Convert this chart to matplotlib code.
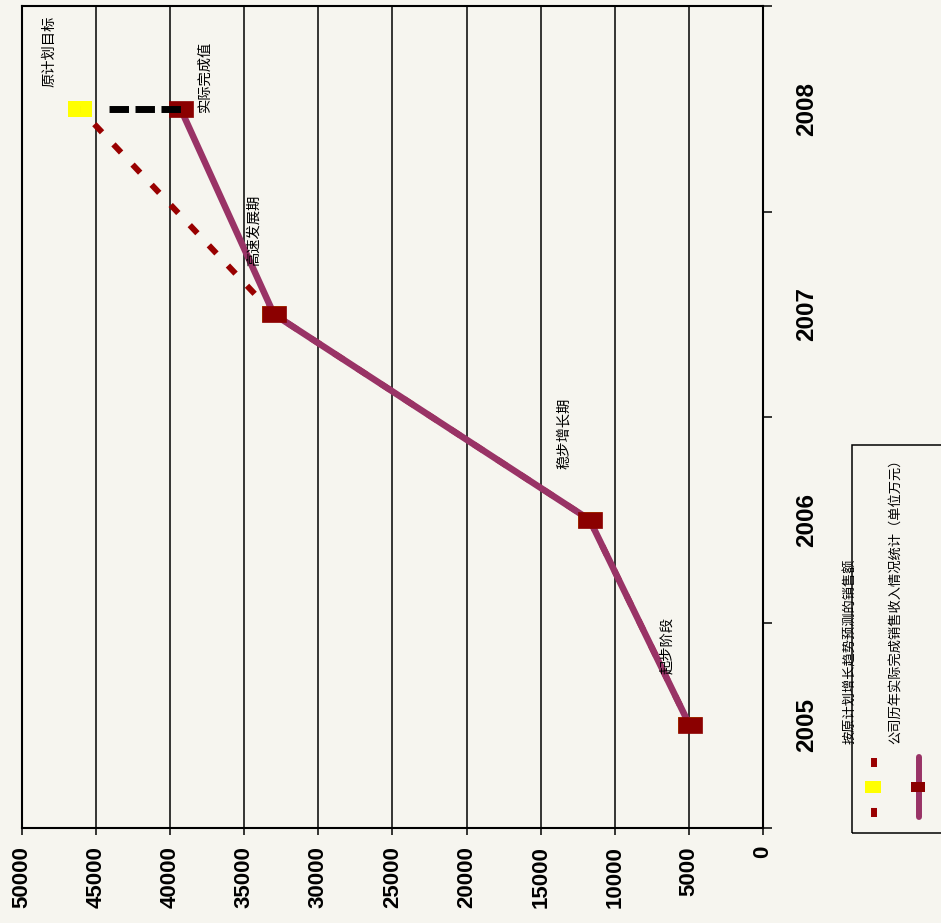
import matplotlib
matplotlib.use("Agg")
import matplotlib.pyplot as plt
from matplotlib import font_manager
from matplotlib.lines import Line2D
from matplotlib.patches import Rectangle
from matplotlib.path import Path
import numpy as np

# ---- data -------------------------------------------------------------
years = ["2005", "2006", "2007", "2008"]
plan_sales = [4950, 11700, 33000, 46100]     # trend-based projection
actual_sales = [4950, 11700, 33000, 39300]   # achieved figures
point_notes = ["起步阶段", "稳步增长期", "高速发展期", "实际完成值"]
plan_note = "原计划目标"
legend_labels = ["按原计划增长趋势预测的销售额",
                 "公司历年实际完成销售收入情况统计（单位万元）"]
value_ticks = list(range(0, 50001, 5000))

# ---- style ------------------------------------------------------------
W, H, DPI = 941, 923, 100
BG = "#f6f5ef"
PLAN_RED = "#990000"
MARK_RED = "#8b0000"
PURPLE = "#993366"
YELLOW = "#ffff00"
CJK = ["Noto Sans CJK SC", "DejaVu Sans"]
NOTE_SIZE = 10.3

available = {f.name for f in font_manager.fontManager.ttflist}
if "Liberation Sans Narrow" in available:
    NUM_FONT, NUM_SIZE, YEAR_SIZE = "Liberation Sans Narrow", 18.5, 19.5
else:
    NUM_FONT, NUM_SIZE, YEAR_SIZE = "Liberation Sans", 16.0, 17.5

plt.rcParams["lines.scale_dashes"] = False

fig = plt.figure(figsize=(W / DPI, H / DPI), dpi=DPI, facecolor=BG)


def fx(px):
    return px / W


def fy(py):
    return 1 - py / H


ax = fig.add_axes([fx(22), fy(828), fx(763) - fx(22), fy(6) - fy(828)])
ax.set_facecolor(BG)
ax.set_xlim(value_ticks[-1], value_ticks[0])
ax.set_ylim(-0.5, len(years) - 0.5)
ax.set_axisbelow(True)

pos = np.arange(len(years))

# wide rectangular point marker
box = Path([(-1.44, -1), (1.44, -1), (1.44, 1), (-1.44, 1), (-1.44, -1)], closed=True)

# projection: dashed dark red with yellow points
ax.plot(plan_sales, pos, color=PLAN_RED, lw=4.3, linestyle=(4, (8, 12)),
        dash_capstyle="butt", marker=box, ms=16.6, mfc=YELLOW, mec=YELLOW,
        mew=0, zorder=3)

# achieved: solid plum with dark red points
ax.plot(actual_sales, pos, color=PURPLE, lw=4.7, solid_capstyle="round",
        marker=box, ms=16.6, mfc=MARK_RED, mec=MARK_RED, mew=0.5, zorder=4)

# shortfall between projection and achievement in the last year
ax.plot([plan_sales[-1], actual_sales[-1]], [pos[-1], pos[-1]], color="black",
        lw=5.0, linestyle=(0, (0.01, 20.9, 14, 4.7, 14, 4.7, 14, 40)),
        dash_capstyle="butt", zorder=5)

# point notes
note_offsets = [(-22, 80), (-26, 86), (-20, 84), (24, 32)]
for v, p, txt, (dx, dy) in zip(actual_sales, pos, point_notes, note_offsets):
    ax.annotate(txt, (v, p), xytext=(dx, dy), textcoords="offset pixels",
                rotation=90, ha="center", va="center", fontsize=NOTE_SIZE,
                family=CJK, zorder=6)
ax.annotate(plan_note, (plan_sales[-1], pos[-1]), xytext=(-30, 57),
            textcoords="offset pixels", rotation=90, ha="center", va="center",
            fontsize=NOTE_SIZE, family=CJK, zorder=6)

# value axis (bottom)
ax.set_xticks(value_ticks)
ax.set_xticklabels([str(v) for v in value_ticks])
ax.grid(axis="x", color="black", lw=1.1)
ax.grid(axis="y", visible=False)
ax.tick_params(axis="x", direction="out", length=5, width=1.1, pad=8,
               labelrotation=90)
for t in ax.get_xticklabels():
    t.set_fontfamily(NUM_FONT)
    t.set_fontweight("bold")
    t.set_fontsize(NUM_SIZE)

# category axis (right)
ax.yaxis.tick_right()
ax.set_yticks(np.arange(-0.5, len(years)), labels=[])
ax.set_yticks(pos, labels=years, minor=True)
ax.tick_params(axis="y", which="major", direction="out", length=6.5, width=1.1)
ax.tick_params(axis="y", which="minor", length=0, pad=23, labelrotation=90)
for t in ax.get_yticklabels(minor=True):
    t.set_fontfamily(NUM_FONT)
    t.set_fontweight("bold")
    t.set_fontsize(YEAR_SIZE)
    t.set_va("center")

for s in ax.spines.values():
    s.set_color("black")
    s.set_linewidth(1.5)

# ---- legend -----------------------------------------------------------
fig.add_artist(Rectangle((fx(852), fy(833)), fx(960) - fx(852), fy(445) - fy(833),
                         transform=fig.transFigure, fill=False, ec="black",
                         lw=1.1, clip_on=False))

fig.add_artist(Line2D([fx(874), fx(874)], [fy(817), fy(758)],
                      transform=fig.transFigure, color=PLAN_RED, lw=4.3,
                      linestyle=(0, (6.5, 29.5)), dash_capstyle="butt"))
fig.add_artist(Line2D([fx(873)], [fy(787)], transform=fig.transFigure,
                      linestyle="none", marker=box, ms=11.5, mfc=YELLOW,
                      mec=YELLOW, mew=0))
fig.add_artist(Line2D([fx(918.5), fx(918.5)], [fy(817), fy(757)],
                      transform=fig.transFigure, color=PURPLE, lw=4.3,
                      solid_capstyle="round"))
fig.add_artist(Line2D([fx(917.5)], [fy(787)], transform=fig.transFigure,
                      linestyle="none", marker=box, ms=10.8, mfc=MARK_RED,
                      mec=MARK_RED, mew=0))

for xc, txt in zip([851, 895], legend_labels):
    fig.text(fx(xc), fy(744), txt, rotation=90, ha="center", va="bottom",
             fontsize=9.5, family=CJK)

fig.savefig("out.png", dpi=DPI, facecolor=BG)
